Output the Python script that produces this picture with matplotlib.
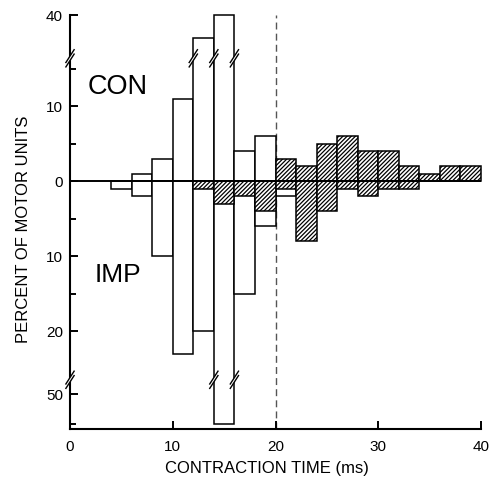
import numpy as np
import matplotlib
matplotlib.use("Agg")
import matplotlib.pyplot as plt
from matplotlib.patches import Polygon

plt.rcParams['font.family'] = ['Liberation Sans', 'DejaVu Sans']
plt.rcParams['hatch.linewidth'] = 0.9

# ---- data (2 ms bins, left edges) ----
bin_start = [4, 6, 8, 10, 12, 14, 16, 18, 20, 22, 24, 26, 28, 30, 32, 34, 36, 38]
con_open = [0, 1, 3, 11, 37, 40, 4, 6, 0, 0, 0, 0, 0, 0, 0, 0, 0, 0]
con_hatched = [0, 0, 0, 0, 0, 0, 0, 0, 3, 2, 5, 6, 4, 4, 2, 1, 2, 2]
imp_open = [1, 2, 10, 23, 20, 54, 15, 6, 2, 0, 0, 0, 0, 0, 0, 0, 0, 0]
imp_hatched = [0, 0, 0, 0, 1, 3, 2, 4, 1, 8, 4, 1, 2, 1, 1, 0, 0, 0]
BIN_W = 2

up_tick_vals = [10, 0]
up_tick_labels = ['10', '0']
down_tick_vals = [10, 20]
down_tick_labels = ['10', '20']

# ---- broken-axis mapping (plot units) ----
Y_TOP = 22.13      # position of value 40 (upper segment)
Y_BRK_UP = 16.4    # upper break
Y_50 = -28.4       # position of value 50 (lower segment)
Y_BRK_LO = -26.5   # lower break
Y_BOT = -33.07


def map_con(v):
    return v if v <= Y_BRK_UP else Y_TOP - (40 - v)


def map_imp(v):
    return -v if v <= -Y_BRK_LO else Y_50 - (v - 50)


fig = plt.figure(figsize=(4.94, 4.80), dpi=100)
ax = fig.add_axes([70 / 494, 51 / 480, 411 / 494, 414 / 480])
ax.set_xlim(0, 40)
ax.set_ylim(Y_BOT, Y_TOP + 0.05)

LW = 1.1


def draw_bars(values, mapper, hatch):
    xs = [x for x, v in zip(bin_start, values) if v > 0]
    hs = [mapper(v) for v in values if v > 0]
    ax.bar(xs, hs, width=BIN_W, align='edge', facecolor='white',
           edgecolor='black', linewidth=LW, hatch=hatch, zorder=2 if hatch is None else 3,
           clip_on=False)


draw_bars(con_open, map_con, None)
draw_bars(imp_open, map_imp, None)
draw_bars(con_hatched, map_con, '////////')
draw_bars(imp_hatched, map_imp, '////////')

# zero line
ax.axhline(0, color='black', linewidth=1.4, zorder=5)
# dashed line at 20 ms
ax.axvline(20, color='#555555', linewidth=1.0, dashes=(5, 3), zorder=1)

# ---- break marks ----
PXX = 40 / 411.0
PXY = 1 / 7.5


def brk(x, y):
    w = 4.5 * PXX
    h = 7.0 * PXY
    g = 2.2 * PXY
    poly = Polygon([(x - w, y - g - h), (x + w, y - g + h), (x + w, y + g + h), (x - w, y + g - h)],
                   closed=True, facecolor='white', edgecolor='none', zorder=6, clip_on=False)
    ax.add_patch(poly)
    for s in (-g, g):
        ax.plot([x - w, x + w], [y + s - h, y + s + h], color='black', linewidth=1.0,
                zorder=7, clip_on=False, solid_capstyle='butt')


brk(0, Y_BRK_UP)
brk(0, Y_BRK_LO)
edges_up = set()
edges_lo = set()
for x, v in zip(bin_start, con_open):
    if v > 0 and map_con(v) > Y_BRK_UP:
        edges_up.update([x, x + BIN_W])
for x, v in zip(bin_start, imp_open):
    if v > 0 and map_imp(v) < Y_BRK_LO:
        edges_lo.update([x, x + BIN_W])
for x in edges_up:
    brk(x, Y_BRK_UP)
for x in edges_lo:
    brk(x, Y_BRK_LO)

# ---- axes styling ----
for s in ('top', 'right'):
    ax.spines[s].set_visible(False)
for s in ('left', 'bottom'):
    ax.spines[s].set_linewidth(1.5)

ax.set_xticks([0, 10, 20, 30, 40])
ax.set_xticklabels(['0', '10', '20', '30', '40'])
yt = [Y_TOP] + [map_con(v) for v in up_tick_vals] + [map_imp(v) for v in down_tick_vals] + [Y_50]
yl = ['40'] + up_tick_labels + down_tick_labels + ['50']
ax.set_yticks(yt)
ax.set_yticklabels(yl)
ax.set_yticks([5, 15, -5, -15, map_imp(54)], minor=True)
ax.tick_params(axis='both', which='major', direction='in', length=6, width=1.4, labelsize=11)
ax.tick_params(axis='x', which='major', pad=8)
ax.tick_params(axis='y', which='major', pad=5)
ax.tick_params(axis='y', which='minor', direction='in', length=4, width=1.4)

ax.text(0.117, 0.826, 'CON', transform=ax.transAxes, fontsize=19.5, ha='center', va='center')
ax.text(0.117, 0.372, 'IMP', transform=ax.transAxes, fontsize=19, ha='center', va='center')

fig.text(24 / 494, 1 - 229 / 480, 'PERCENT OF MOTOR UNITS', rotation=90, ha='center', va='center',
         fontsize=12)
fig.text(267 / 494, 1 - 469 / 480, 'CONTRACTION TIME (ms)', ha='center', va='center', fontsize=12)

fig.savefig('out.png', dpi=100)
